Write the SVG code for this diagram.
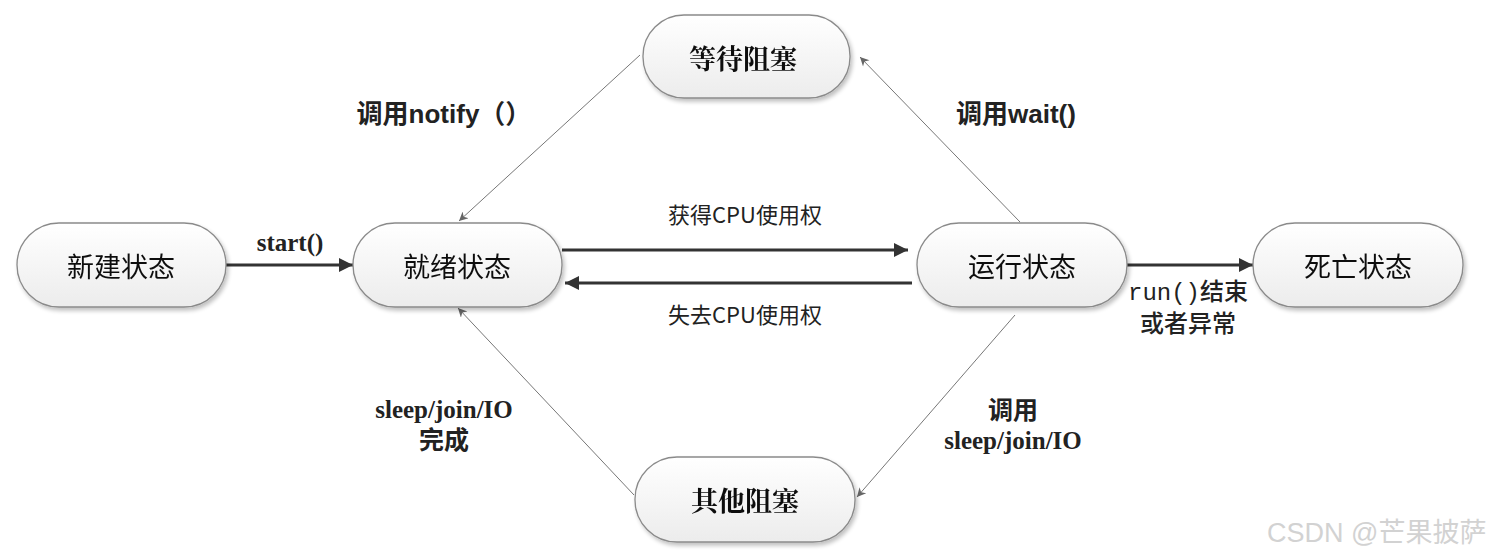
<svg xmlns="http://www.w3.org/2000/svg" width="1490" height="558" viewBox="0 0 1490 558">
<defs>
<linearGradient id="g" x1="0" y1="0" x2="0" y2="1">
<stop offset="0" stop-color="#ffffff"/>
<stop offset="1" stop-color="#ececec"/>
</linearGradient>
<filter id="sh" x="-10%" y="-10%" width="125%" height="130%">
<feGaussianBlur in="SourceAlpha" stdDeviation="2"/>
<feOffset dx="2" dy="3" result="b"/>
<feComponentTransfer><feFuncA type="linear" slope="0.25"/></feComponentTransfer>
<feMerge><feMergeNode/><feMergeNode in="SourceGraphic"/></feMerge>
</filter>
<marker id="ah" viewBox="0 0 10 10" refX="10" refY="5" markerWidth="20" markerHeight="14" markerUnits="userSpaceOnUse" orient="auto">
<path d="M0,0 L10,5 L0,10 Z" fill="#333"/>
</marker>
<marker id="at" viewBox="0 0 10 10" refX="10" refY="5" markerWidth="12" markerHeight="9" markerUnits="userSpaceOnUse" orient="auto">
<path d="M0,0 L10,5 L0,10 L3,5 Z" fill="#666"/>
</marker>
</defs>
<style>
.node rect{fill:url(#g);stroke:#8a8a8a;stroke-width:1.3}
.nt{font-family:"Noto Sans CJK SC","Liberation Sans",sans-serif;font-size:27px;fill:#111;text-anchor:middle;dominant-baseline:central}
.ntb{font-family:"Noto Serif CJK SC","Noto Sans CJK SC",serif;font-size:27px;font-weight:bold;fill:#111;text-anchor:middle;dominant-baseline:central}
.thick{stroke:#333;stroke-width:3;fill:none}
.thin{stroke:#777;stroke-width:1;fill:none}
.lb{font-family:"Liberation Sans","Noto Sans CJK SC",sans-serif;font-size:26px;font-weight:bold;fill:#222;text-anchor:middle}
.ls{font-family:"Liberation Serif","Noto Sans CJK SC",serif;font-size:25px;font-weight:bold;fill:#222;text-anchor:middle}
.lr{font-family:"Liberation Serif","Noto Sans CJK SC",serif;font-size:24px;font-weight:500;fill:#222;text-anchor:middle}
.lc{font-family:"Noto Sans CJK SC",sans-serif;font-size:22px;fill:#222;text-anchor:middle}
.wm{font-family:"Liberation Sans","Noto Sans CJK SC",sans-serif;font-size:27px;fill:#d2d2d2;text-anchor:start}
</style>
<rect width="1490" height="558" fill="#ffffff"/>
<g id="connectors">
<line class="thick" x1="226" y1="265" x2="353" y2="265" marker-end="url(#ah)"/>
<line class="thick" x1="562" y1="250" x2="908" y2="250" marker-end="url(#ah)"/>
<line class="thick" x1="912" y1="283" x2="565" y2="283" marker-end="url(#ah)"/>
<line class="thick" x1="1127" y1="265" x2="1253" y2="265" marker-end="url(#ah)"/>
<line class="thin" x1="640" y1="55" x2="459" y2="221" marker-end="url(#at)"/>
<line class="thin" x1="1020" y1="222" x2="860" y2="57" marker-end="url(#at)"/>
<line class="thin" x1="1015" y1="315" x2="857" y2="497" marker-end="url(#at)"/>
<line class="thin" x1="634" y1="495" x2="458" y2="308" marker-end="url(#at)"/>
</g>
<g id="n_new" class="node" filter="url(#sh)"><rect x="17" y="223" width="209" height="84" rx="42"/><text class="nt" x="121" y="265">新建状态</text></g>
<g id="n_ready" class="node" filter="url(#sh)"><rect x="353" y="223" width="209" height="84" rx="42"/><text class="nt" x="457" y="265">就绪状态</text></g>
<g id="n_run" class="node" filter="url(#sh)"><rect x="917" y="223" width="210" height="84" rx="42"/><text class="nt" x="1022" y="265">运行状态</text></g>
<g id="n_dead" class="node" filter="url(#sh)"><rect x="1253" y="223" width="210" height="84" rx="42"/><text class="nt" x="1358" y="265">死亡状态</text></g>
<g id="n_wait" class="node" filter="url(#sh)"><rect x="643" y="15" width="207" height="83" rx="41"/><text class="ntb" x="743" y="57">等待阻塞</text></g>
<g id="n_other" class="node" filter="url(#sh)"><rect x="635" y="457" width="220" height="85" rx="42"/><text class="ntb" x="745" y="499">其他阻塞</text></g>
<g id="labels">
<text class="lb" x="444" y="123">调用notify（）</text>
<text class="lb" x="1016" y="123">调用wait()</text>
<text class="ls" x="290" y="251">start()</text>
<text class="lc" x="745" y="223">获得CPU使用权</text>
<text class="lc" x="745" y="323">失去CPU使用权</text>
<text class="lr" x="1188" y="300"><tspan font-family="Liberation Mono" font-weight="normal">run()</tspan>结束</text>
<text class="lr" x="1188" y="332">或者异常</text>
<text class="ls" x="444" y="418">sleep/join/IO</text>
<text class="ls" x="444" y="449">完成</text>
<text class="ls" x="1013" y="419">调用</text>
<text class="ls" x="1013" y="449">sleep/join/IO</text>
<text class="wm" x="1267" y="542">CSDN @芒果披萨</text>
</g>
</svg>
